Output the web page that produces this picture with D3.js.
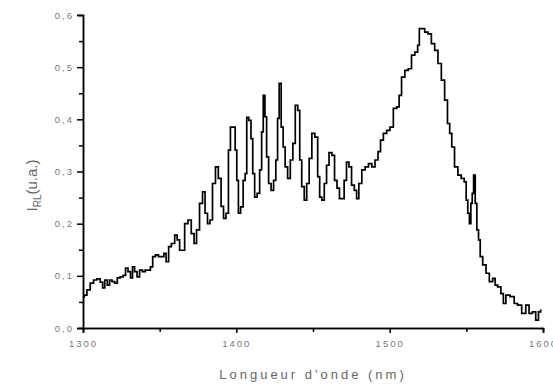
<!DOCTYPE html>
<html>
<head>
<meta charset="utf-8">
<script src="https://cdn.jsdelivr.net/npm/d3@7"></script>
<style>
  body { margin: 0; background: #fff; }
  svg { display: block; font-family: "Liberation Sans", Arial, sans-serif; }
</style>
</head>
<body>
<svg id="chart" width="553" height="385"></svg>
<script>
// spectrum (wavelength in nm, intensity in u.a.)
var wavelength = [1300.2,1301.5,1303.6,1305.8,1308.0,1310.1,1312.3,1313.3,1315.1,1316.6,1318.1,1319.8,1321.6,1323.1,1325.3,1327.0,1328.5,1330.2,1331.8,1332.8,
  1334.5,1336.0,1337.8,1339.7,1341.5,1343.2,1344.7,1346.2,1348.3,1350.1,1352.2,1353.3,1355.1,1356.6,1358.7,1360.9,1361.9,1364.1,1365.2,1367.4,
  1369.5,1371.7,1373.2,1374.9,1377.1,1378.8,1380.4,1382.0,1383.6,1385.3,1387.5,1389.0,1391.1,1392.2,1394.3,1395.4,1396.9,1398.7,1399.8,1400.8,
  1401.9,1403.7,1405.2,1406.3,1407.3,1408.9,1410.2,1411.2,1412.7,1414.4,1416.0,1417.0,1418.1,1419.2,1420.3,1421.8,1423.5,1425.1,1426.4,1427.4,
  1428.5,1430.0,1431.1,1432.6,1434.3,1436.1,1437.6,1439.3,1440.8,1441.9,1443.4,1445.2,1446.6,1448.4,1450.1,1452.3,1453.8,1454.9,1456.6,1458.1,
  1459.6,1461.3,1463.5,1464.6,1466.7,1467.8,1469.5,1471.1,1472.6,1474.3,1476.0,1477.9,1479.0,1480.8,1482.9,1485.1,1487.3,1489.4,1491.5,1493.3,
  1494.8,1497.0,1499.1,1501.3,1503.5,1505.6,1506.7,1508.8,1511.0,1513.2,1515.3,1517.5,1519.0,1519.7,1521.8,1523.9,1526.1,1528.3,1530.4,1532.6,
  1534.8,1536.9,1538.5,1539.8,1541.2,1543.4,1545.6,1547.7,1549.5,1550.3,1551.6,1552.4,1553.5,1554.2,1555.3,1556.3,1557.4,1558.5,1559.6,1561.8,
  1563.9,1566.1,1568.3,1569.3,1571.5,1573.6,1574.7,1576.9,1580.1,1582.3,1584.5,1587.7,1589.8,1592.0,1594.2,1596.3,1597.8,1599.1];

var intensity = [0.060,0.063,0.073,0.086,0.092,0.094,0.088,0.077,0.092,0.082,0.092,0.089,0.086,0.096,0.098,0.101,0.115,0.108,0.096,0.117,
  0.108,0.098,0.111,0.108,0.111,0.111,0.117,0.137,0.140,0.137,0.137,0.143,0.127,0.156,0.162,0.178,0.169,0.149,0.149,0.200,
  0.207,0.181,0.162,0.188,0.239,0.261,0.220,0.200,0.207,0.277,0.309,0.287,0.233,0.210,0.220,0.341,0.385,0.385,0.341,0.283,
  0.220,0.232,0.283,0.296,0.404,0.398,0.363,0.296,0.251,0.258,0.303,0.376,0.446,0.405,0.328,0.277,0.264,0.283,0.322,0.402,
  0.469,0.385,0.347,0.309,0.287,0.322,0.354,0.427,0.417,0.322,0.271,0.245,0.277,0.325,0.373,0.366,0.290,0.251,0.245,0.277,
  0.312,0.336,0.331,0.283,0.268,0.248,0.248,0.283,0.318,0.309,0.274,0.264,0.248,0.277,0.303,0.309,0.315,0.309,0.322,0.338,
  0.360,0.373,0.379,0.385,0.421,0.424,0.446,0.481,0.494,0.497,0.523,0.529,0.542,0.574,0.574,0.567,0.564,0.545,0.532,0.507,
  0.475,0.437,0.392,0.373,0.347,0.309,0.293,0.287,0.280,0.245,0.220,0.200,0.239,0.258,0.293,0.239,0.188,0.169,0.137,0.121,
  0.105,0.089,0.095,0.082,0.079,0.066,0.047,0.063,0.060,0.047,0.044,0.028,0.044,0.028,0.031,0.015,0.031,0.034];

var xTicks = [1300, 1400, 1500, 1600];
var xMinorTicks = [1350, 1450, 1550];
var yTicks = [0, 0.1, 0.2, 0.3, 0.4, 0.5, 0.6];
var yMinorTicks = [0.05, 0.15, 0.25, 0.35, 0.45, 0.55];

var svg = d3.select("#chart");
var margin = {left: 83, right: 10, top: 15, bottom: 57};
var width = 553 - margin.left - margin.right;
var height = 385 - margin.top - margin.bottom;

var x = d3.scaleLinear().domain([1300, 1600]).range([0, width]);
var y = d3.scaleLinear().domain([0, 0.6]).range([height, 0]);

var g = svg.append("g").attr("transform", "translate(" + margin.left + "," + margin.top + ")");

var comma = d3.formatLocale({decimal: ",", thousands: ".", grouping: [3], currency: ["", ""]});

// minor ticks first, the major axis draws over them
g.append("g")
  .attr("class", "axis")
  .attr("transform", "translate(0," + height + ")")
  .call(d3.axisBottom(x).tickValues(xMinorTicks).tickSize(4).tickFormat(""));
g.append("g")
  .attr("class", "axis")
  .call(d3.axisLeft(y).tickValues(yMinorTicks).tickSize(4).tickFormat(""));

g.append("g")
  .attr("class", "axis")
  .attr("transform", "translate(0," + height + ")")
  .call(d3.axisBottom(x).tickValues(xTicks).tickSize(5).tickPadding(7).tickFormat(d3.format("d")));

g.append("g")
  .attr("class", "axis")
  .call(d3.axisLeft(y).tickValues(yTicks).tickSize(6).tickPadding(3).tickFormat(comma.format(".1f")));

g.selectAll(".axis path, .axis line").attr("stroke", "#000").attr("stroke-width", 1.5);
g.selectAll(".axis text")
  .attr("fill", "#777")
  .style("font-size", "9.5px")
  .style("letter-spacing", "2px");

var line = d3.line()
  .x(function(d, i) { return x(wavelength[i]); })
  .y(function(d) { return y(d); })
  .curve(d3.curveStep);

g.append("path")
  .datum(intensity)
  .attr("fill", "none")
  .attr("stroke", "#000")
  .attr("stroke-width", 1.7)
  .attr("d", line);

// axis titles
svg.append("text")
  .attr("x", margin.left + width / 2)
  .attr("y", 379)
  .attr("text-anchor", "middle")
  .attr("fill", "#666")
  .style("font-size", "13px")
  .style("letter-spacing", "3px")
  .text("Longueur d'onde (nm)");

var yTitle = svg.append("text")
  .attr("transform", "translate(37," + (margin.top + height / 2 + 14) + ") rotate(-90)")
  .attr("text-anchor", "middle")
  .attr("fill", "#666")
  .style("font-size", "15px");
yTitle.append("tspan").text("I");
yTitle.append("tspan").attr("dy", 4).style("font-size", "10px").text("RL");
yTitle.append("tspan").attr("dy", -4).text("(u.a.)");
</script>
</body>
</html>
